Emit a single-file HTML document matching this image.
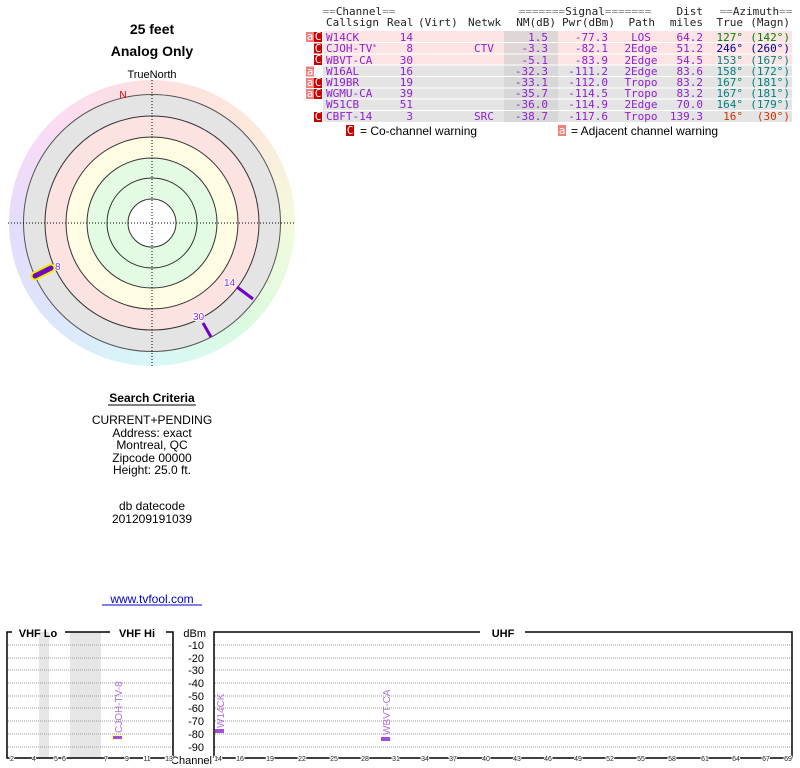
<!DOCTYPE html>
<html><head><meta charset="utf-8"><style>
body{margin:0;background:#fff;width:800px;height:768px;overflow:hidden;position:relative;font-family:"Liberation Sans",sans-serif}
.wheel{position:absolute;left:9px;top:80px;width:286px;height:286px;border-radius:50%;
background:conic-gradient(#fde0e0,#fde8dc 45deg,#f4fadc 90deg,#dcfadf 135deg,#d8f8f8 180deg,#dce6fc 225deg,#e4dcfc 270deg,#fbdcf4 315deg,#fde0e0)}
svg{position:absolute;left:0;top:0}
</style></head><body>
<div class="wheel"></div>
<svg width="800" height="768" xmlns="http://www.w3.org/2000/svg">
<g font-family="Liberation Sans, sans-serif" text-anchor="middle" fill="#000">
<text x="152" y="34" font-size="14" font-weight="bold">25 feet</text>
<text x="152" y="56" font-size="14" font-weight="bold">Analog Only</text>
<text x="152" y="78" font-size="11">TrueNorth</text>
</g>
<circle cx="152" cy="223" r="128.5" fill="#e4e4e4" stroke="#555" stroke-width="1"/>
<circle cx="152" cy="223" r="107" fill="#fde2e2" stroke="#333" stroke-width="1"/>
<circle cx="152" cy="223" r="86" fill="#fefde4" stroke="#333" stroke-width="1"/>
<circle cx="152" cy="223" r="65" fill="#e2fbe2" stroke="#333" stroke-width="1"/>
<circle cx="152" cy="223" r="45" fill="#e2fbe2" stroke="#333" stroke-width="1"/>
<circle cx="152" cy="223" r="24" fill="#fff" stroke="#333" stroke-width="1"/>
<line x1="152" y1="80" x2="152" y2="367" stroke="#000" stroke-dasharray="1,2"/>
<line x1="8" y1="223" x2="296" y2="223" stroke="#000" stroke-dasharray="1,2"/>
<text x="123" y="98" font-size="10" fill="#d00" font-family="Liberation Sans,sans-serif" text-anchor="middle">N</text>
<line x1="35" y1="276" x2="51" y2="268" stroke="#ee0" stroke-width="9" stroke-linecap="round"/>
<line x1="35" y1="276" x2="51" y2="268" stroke="#7000c8" stroke-width="5" stroke-linecap="round"/>
<line x1="237" y1="287" x2="253" y2="299" stroke="#7000c8" stroke-width="3"/>
<line x1="203" y1="323" x2="211" y2="337" stroke="#7000c8" stroke-width="3"/>
<g font-family="Liberation Sans,sans-serif" font-size="10" fill="#8a2be2" stroke="#fff" stroke-width="2" paint-order="stroke">
<text x="55" y="270">8</text><text x="224" y="286">14</text><text x="193" y="320">30</text></g>
<g font-family="Liberation Sans, sans-serif" text-anchor="middle" font-size="12" fill="#000">
<text x="152" y="402" font-weight="bold">Search Criteria</text>
<line x1="108" y1="405" x2="196" y2="405" stroke="#000"/>
<text x="152" y="424">CURRENT+PENDING</text>
<text x="152" y="437">Address: exact</text>
<text x="152" y="449">Montreal, QC</text>
<text x="152" y="462">Zipcode 00000</text>
<text x="152" y="474">Height: 25.0 ft.</text>
<text x="152" y="510">db datecode</text>
<text x="152" y="523">201209191039</text>
<text x="152" y="603" fill="#00c">www.tvfool.com</text>
<line x1="102" y1="605" x2="202" y2="605" stroke="#00c"/>
</g>
<g>
<rect x="323" y="31" width="469" height="34" fill="#fde4e4"/>
<rect x="323" y="65" width="469" height="57" fill="#e4e4e4"/>
<rect x="504" y="31" width="54" height="91" fill="#d2d2d2" opacity="0.7"/>
<g stroke="#fff" stroke-width="1">
<line x1="323" y1="42.5" x2="792" y2="42.5"/><line x1="323" y1="54" x2="792" y2="54"/><line x1="323" y1="65" x2="792" y2="65"/><line x1="323" y1="76.5" x2="792" y2="76.5"/><line x1="323" y1="88" x2="792" y2="88"/><line x1="323" y1="99" x2="792" y2="99"/><line x1="323" y1="110.5" x2="792" y2="110.5"/></g>
<g fill="#c00"><rect x="314" y="32" width="8" height="10"/><rect x="314" y="43.5" width="8" height="10"/><rect x="314" y="55" width="8" height="10"/><rect x="314" y="78" width="8" height="10"/><rect x="314" y="89" width="8" height="10"/><rect x="314" y="112" width="8" height="10"/><rect x="346" y="125" width="8" height="11"/></g>
<g fill="#f08080"><rect x="306" y="32" width="8" height="10"/><rect x="306" y="66.5" width="8" height="10"/><rect x="306" y="78" width="8" height="10"/><rect x="306" y="89" width="8" height="10"/><rect x="558" y="125" width="8" height="11"/></g>
<g font-family="DejaVu Sans Mono, monospace" font-size="11" fill="#fff" text-anchor="middle">
<text x="318" y="40">C</text><text x="318" y="52">C</text><text x="318" y="63">C</text><text x="318" y="86">C</text><text x="318" y="97">C</text><text x="318" y="120">C</text><text x="350" y="134">C</text>
<text x="310" y="40">a</text><text x="310" y="75">a</text><text x="310" y="86">a</text><text x="310" y="97">a</text><text x="562" y="134">a</text></g>
<g font-family="DejaVu Sans Mono, monospace" font-size="11" fill="#222">
<text x="359" y="15" text-anchor="middle" fill="#888">==<tspan fill="#222">Channel</tspan>==</text>
<text x="585" y="15" text-anchor="middle" fill="#888">=======<tspan fill="#222">Signal</tspan>=======</text>
<text x="703" y="15" text-anchor="end">Dist</text>
<text x="756" y="15" text-anchor="middle" fill="#888">==<tspan fill="#222">Azimuth</tspan>==</text>
<text x="326" y="26">Callsign</text><text x="387" y="26">Real</text><text x="418" y="26">(Virt)</text><text x="468" y="26">Netwk</text>
<text x="556" y="26" text-anchor="end">NM(dB)</text><text x="615" y="26" text-anchor="end">Pwr(dBm)</text><text x="655" y="26" text-anchor="end">Path</text><text x="703" y="26" text-anchor="end">miles</text><text x="743" y="26" text-anchor="end">True</text><text x="790" y="26" text-anchor="end">(Magn)</text>
</g>
<g font-family="DejaVu Sans Mono, monospace" font-size="11" fill="#9020d0">
<g><text x="326" y="41">W14CK</text><text x="413" y="41" text-anchor="end">14</text><text x="548" y="41" text-anchor="end">1.5</text><text x="608" y="41" text-anchor="end">-77.3</text><text x="641" y="41" text-anchor="middle">LOS</text><text x="703" y="41" text-anchor="end">64.2</text></g>
<g><text x="326" y="52">CJOH-TV<tspan font-size="7" dy="-3">*</tspan></text><text x="413" y="52" text-anchor="end">8</text><text x="474" y="52">CTV</text><text x="548" y="52" text-anchor="end">-3.3</text><text x="608" y="52" text-anchor="end">-82.1</text><text x="641" y="52" text-anchor="middle">2Edge</text><text x="703" y="52" text-anchor="end">51.2</text></g>
<g><text x="326" y="64">WBVT-CA</text><text x="413" y="64" text-anchor="end">30</text><text x="548" y="64" text-anchor="end">-5.1</text><text x="608" y="64" text-anchor="end">-83.9</text><text x="641" y="64" text-anchor="middle">2Edge</text><text x="703" y="64" text-anchor="end">54.5</text></g>
<g><text x="326" y="75">W16AL</text><text x="413" y="75" text-anchor="end">16</text><text x="548" y="75" text-anchor="end">-32.3</text><text x="608" y="75" text-anchor="end">-111.2</text><text x="641" y="75" text-anchor="middle">2Edge</text><text x="703" y="75" text-anchor="end">83.6</text></g>
<g><text x="326" y="86">W19BR</text><text x="413" y="86" text-anchor="end">19</text><text x="548" y="86" text-anchor="end">-33.1</text><text x="608" y="86" text-anchor="end">-112.0</text><text x="641" y="86" text-anchor="middle">Tropo</text><text x="703" y="86" text-anchor="end">83.2</text></g>
<g><text x="326" y="97">WGMU-CA</text><text x="413" y="97" text-anchor="end">39</text><text x="548" y="97" text-anchor="end">-35.7</text><text x="608" y="97" text-anchor="end">-114.5</text><text x="641" y="97" text-anchor="middle">Tropo</text><text x="703" y="97" text-anchor="end">83.2</text></g>
<g><text x="326" y="108">W51CB</text><text x="413" y="108" text-anchor="end">51</text><text x="548" y="108" text-anchor="end">-36.0</text><text x="608" y="108" text-anchor="end">-114.9</text><text x="641" y="108" text-anchor="middle">2Edge</text><text x="703" y="108" text-anchor="end">70.0</text></g>
<g><text x="326" y="120">CBFT-14</text><text x="413" y="120" text-anchor="end">3</text><text x="474" y="120">SRC</text><text x="548" y="120" text-anchor="end">-38.7</text><text x="608" y="120" text-anchor="end">-117.6</text><text x="641" y="120" text-anchor="middle">Tropo</text><text x="703" y="120" text-anchor="end">139.3</text></g>
</g>
<g font-family="DejaVu Sans Mono, monospace" font-size="11" text-anchor="end">
<text x="743" y="41" fill="#008000">127°</text><text x="790" y="41" fill="#008000">(142°)</text>
<text x="743" y="52" fill="#000090">246°</text><text x="790" y="52" fill="#000090">(260°)</text>
<g fill="#008080"><text x="743" y="64">153°</text><text x="790" y="64">(167°)</text>
<text x="743" y="75">158°</text><text x="790" y="75">(172°)</text>
<text x="743" y="86">167°</text><text x="790" y="86">(181°)</text>
<text x="743" y="97">167°</text><text x="790" y="97">(181°)</text>
<text x="743" y="108">164°</text><text x="790" y="108">(179°)</text></g>
<text x="743" y="120" fill="#cc3300">16°</text><text x="790" y="120" fill="#cc3300">(30°)</text>
</g>
<g font-family="Liberation Sans, sans-serif" font-size="12" fill="#000">
<text x="360" y="135">= Co-channel warning</text><text x="571" y="135">= Adjacent channel warning</text></g>
</g>
<rect x="39" y="632" width="10" height="126" fill="#e6e6e6"/>
<rect x="70" y="632" width="31" height="126" fill="#e6e6e6"/>
<g stroke="#999" stroke-dasharray="1,1">
<line x1="8" y1="645" x2="173" y2="645"/><line x1="8" y1="658" x2="173" y2="658"/><line x1="8" y1="670" x2="173" y2="670"/><line x1="8" y1="683" x2="173" y2="683"/><line x1="8" y1="696" x2="173" y2="696"/><line x1="8" y1="708" x2="173" y2="708"/><line x1="8" y1="721" x2="173" y2="721"/><line x1="8" y1="734" x2="173" y2="734"/><line x1="8" y1="747" x2="173" y2="747"/>
<line x1="215" y1="645" x2="792" y2="645"/><line x1="215" y1="658" x2="792" y2="658"/><line x1="215" y1="670" x2="792" y2="670"/><line x1="215" y1="683" x2="792" y2="683"/><line x1="215" y1="696" x2="792" y2="696"/><line x1="215" y1="708" x2="792" y2="708"/><line x1="215" y1="721" x2="792" y2="721"/><line x1="215" y1="734" x2="792" y2="734"/><line x1="215" y1="747" x2="792" y2="747"/>
</g>
<g stroke="#000" stroke-width="1.5" fill="none">
<polyline points="12,632 7,632 7,758 173,758 173,632 166,632"/>
<line x1="65" y1="632" x2="110" y2="632"/>
<polyline points="214,758 214,632 480,632"/>
<polyline points="525,632 792,632 792,758 214,758"/>
</g>
<g font-family="Liberation Sans, sans-serif" font-size="11" font-weight="bold" text-anchor="middle">
<text x="38" y="637">VHF Lo</text><text x="137" y="637">VHF Hi</text><text x="503" y="637">UHF</text></g>
<g font-family="Liberation Sans, sans-serif" font-size="11" text-anchor="end">
<text x="206" y="637">dBm</text><text x="204" y="649">-10</text><text x="204" y="662">-20</text><text x="204" y="674">-30</text><text x="204" y="687">-40</text><text x="204" y="700">-50</text><text x="204" y="712">-60</text><text x="204" y="725">-70</text><text x="204" y="738">-80</text><text x="204" y="751">-90</text>
<text x="212" y="764">Channel</text></g>
<g font-family="Liberation Sans, sans-serif" font-size="7" text-anchor="middle" fill="#222" stroke="#fff" stroke-width="2" paint-order="stroke">
<text x="12" y="761">2</text><text x="34" y="761">4</text><text x="56" y="761">5</text><text x="64" y="761">6</text><text x="106" y="761">7</text><text x="127" y="761">9</text><text x="147" y="761">11</text><text x="169" y="761">13</text>
<text x="218" y="761">14</text><text x="240" y="761">16</text><text x="270" y="761">19</text><text x="302" y="761">22</text><text x="334" y="761">25</text><text x="365" y="761">28</text><text x="396" y="761">31</text><text x="425" y="761">34</text><text x="453" y="761">37</text><text x="486" y="761">40</text><text x="517" y="761">43</text><text x="548" y="761">46</text><text x="578" y="761">49</text><text x="610" y="761">52</text><text x="641" y="761">55</text><text x="672" y="761">58</text><text x="705" y="761">61</text><text x="736" y="761">64</text><text x="766" y="761">67</text><text x="788" y="761">69</text></g>
<rect x="111" y="735" width="12" height="5" rx="2" fill="#ffff99"/>
<rect x="113" y="736" width="9" height="3" fill="#a050d8"/>
<rect x="215" y="729" width="9" height="4" fill="#a050d8"/>
<rect x="381" y="737" width="9" height="4" fill="#a050d8"/>
<g font-family="Liberation Sans, sans-serif" font-size="10" fill="#b070e0">
<text transform="translate(122,733) rotate(-90)">CJOH-TV-8</text>
<text transform="translate(224,728) rotate(-90)">W14CK</text>
<text transform="translate(390,735) rotate(-90)">WBVT-CA</text></g>
</svg>
</body></html>
